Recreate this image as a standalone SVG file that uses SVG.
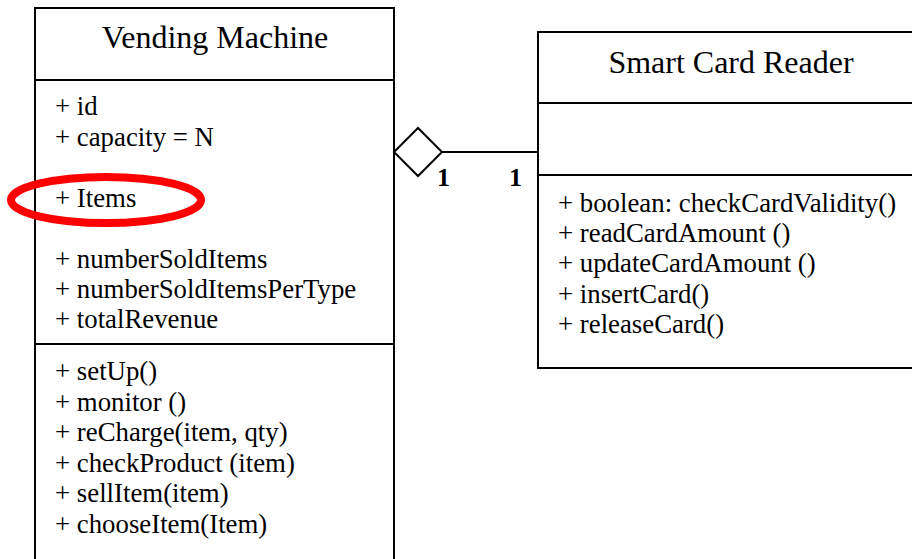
<svg xmlns="http://www.w3.org/2000/svg" width="912" height="559" viewBox="0 0 912 559">
<style>
.box{fill:#fff;stroke:#000;stroke-width:2}
.sep{stroke:#000;stroke-width:2}
.title{font-family:"Liberation Serif","Times New Roman",serif;font-size:32px;fill:#000;text-anchor:middle}
.t{font-family:"Liberation Serif","Times New Roman",serif;font-size:26.8px;fill:#000}
.m{font-family:"Liberation Serif","Times New Roman",serif;font-size:26px;font-weight:bold;fill:#000}
</style>
<rect width="912" height="559" fill="#fff"/>
<g id="vending-machine">
<rect class="box" x="35" y="8" width="359" height="570"/>
<line class="sep" x1="35" y1="80" x2="394" y2="80"/>
<line class="sep" x1="35" y1="344" x2="394" y2="344"/>
<text class="title" x="215" y="48">Vending Machine</text>
<text class="t" x="55" y="115">+ id</text>
<text class="t" x="55" y="146">+ capacity = N</text>
<text class="t" x="55" y="207">+ Items</text>
<text class="t" x="55" y="268">+ numberSoldItems</text>
<text class="t" x="55" y="298">+ numberSoldItemsPerType</text>
<text class="t" x="55" y="328">+ totalRevenue</text>
<text class="t" x="55" y="380">+ setUp()</text>
<text class="t" x="55" y="411">+ monitor ()</text>
<text class="t" x="55" y="441">+ reCharge(item, qty)</text>
<text class="t" x="55" y="472">+ checkProduct (item)</text>
<text class="t" x="55" y="502">+ sellItem(item)</text>
<text class="t" x="55" y="533">+ chooseItem(Item)</text>
</g>
<g id="smart-card-reader">
<rect class="box" x="538" y="32" width="390" height="336"/>
<line class="sep" x1="538" y1="103" x2="928" y2="103"/>
<line class="sep" x1="538" y1="175" x2="928" y2="175"/>
<text class="title" x="731" y="73">Smart Card Reader</text>
<text class="t" x="558" y="212">+ boolean: checkCardValidity()</text>
<text class="t" x="558" y="242">+ readCardAmount ()</text>
<text class="t" x="558" y="272">+ updateCardAmount ()</text>
<text class="t" x="558" y="303">+ insertCard()</text>
<text class="t" x="558" y="333">+ releaseCard()</text>
</g>
<g id="connectors">
<line x1="442" y1="152" x2="538" y2="152" stroke="#000" stroke-width="2"/>
<polygon points="394,152 418,128 442,152 418,176" fill="#fff" stroke="#000" stroke-width="2"/>
<text class="m" x="437" y="186">1</text>
<text class="m" x="509" y="186">1</text>
</g>
<g id="highlight">
<ellipse cx="106" cy="200" rx="95" ry="23" fill="none" stroke="#f00" stroke-width="8"/>
</g>
</svg>
